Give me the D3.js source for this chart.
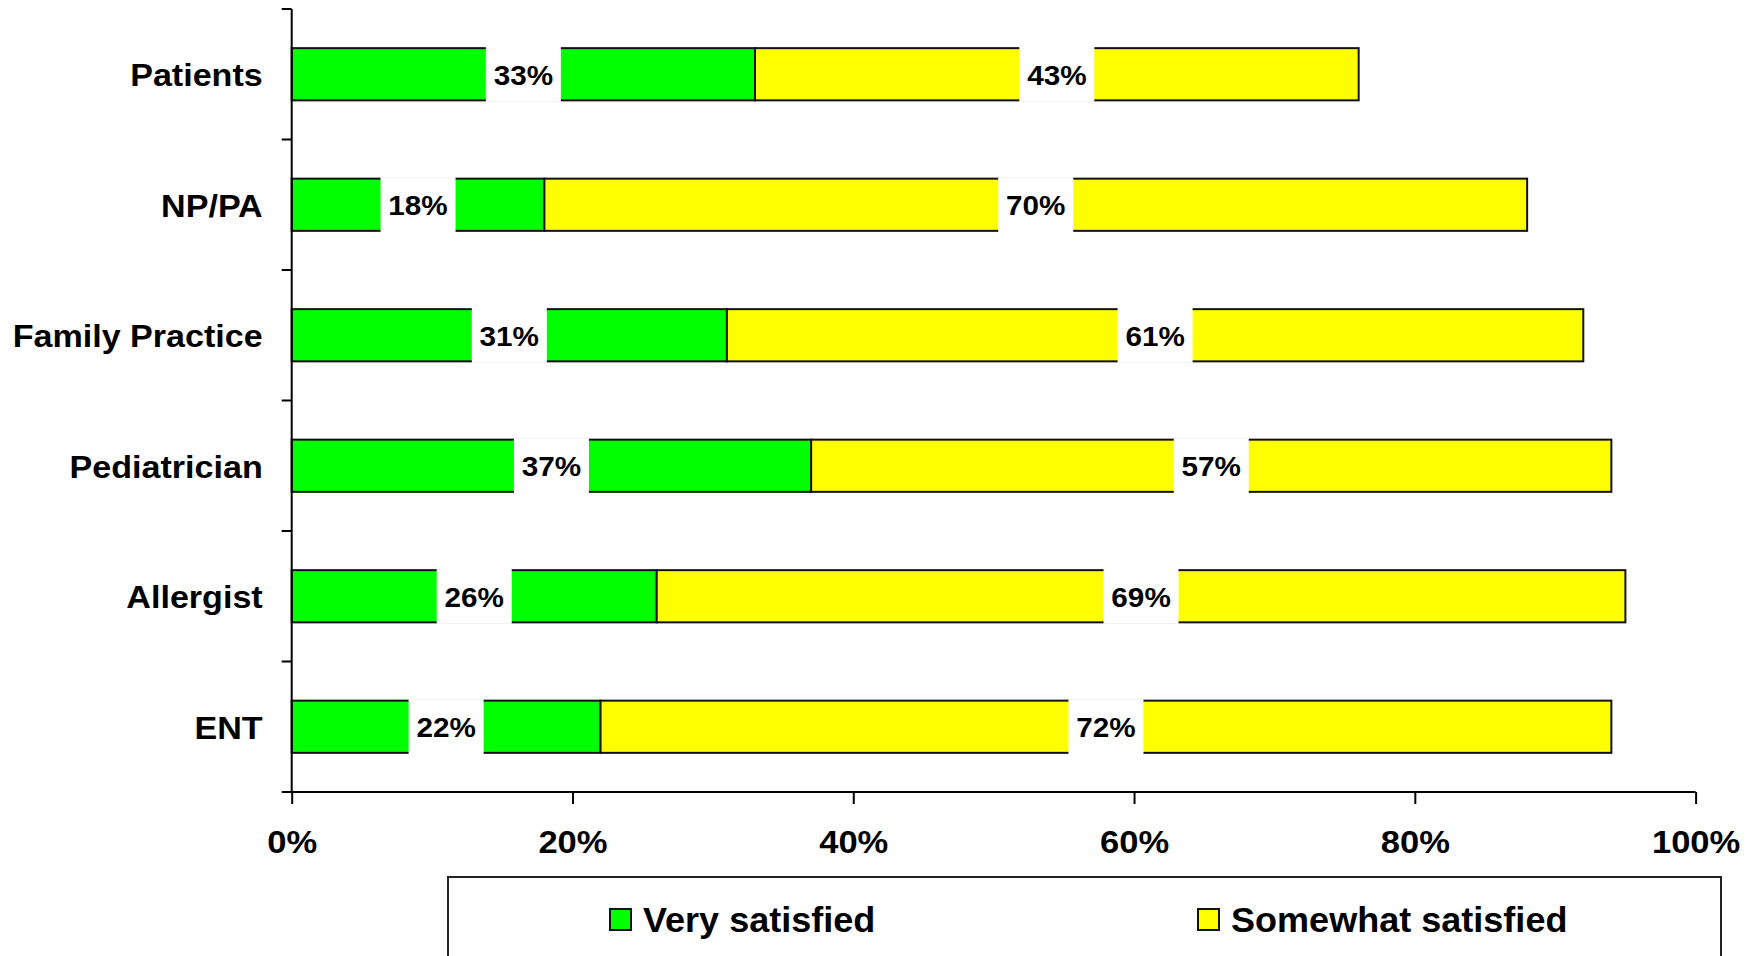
<!DOCTYPE html>
<html>
<head>
<meta charset="utf-8">
<script src="https://cdn.jsdelivr.net/npm/d3@7"></script>
<style>
  html, body { margin: 0; padding: 0; background: #fff; }
  svg { display: block; }
  text { font-family: Arial, "Liberation Sans", sans-serif; font-weight: bold; fill: #000; }
</style>
</head>
<body>
<svg id="chart" width="1751" height="956"></svg>
<script>
const categories = ["Patients", "NP/PA", "Family Practice", "Pediatrician", "Allergist", "ENT"];
const verySatisfied = [33, 18, 31, 37, 26, 22];
const somewhatSatisfied = [43, 70, 61, 57, 69, 72];
const seriesNames = ["Very satisfied", "Somewhat satisfied"];
const seriesColors = ["#00ff00", "#ffff00"];
const xTicks = [0, 20, 40, 60, 80, 100];

const svg = d3.select("#chart");

const x = d3.scaleLinear().domain([0, 100]).range([291.7, 1695.6]);
const y = d3.scaleBand().domain(categories).range([9, 792]).paddingInner(0.6).paddingOuter(0.3);

const rows = categories.map((c, i) => ({ cat: c, v: [verySatisfied[i], somewhatSatisfied[i]] }));

// bars
const segs = [];
rows.forEach(r => {
  let acc = 0;
  r.v.forEach((val, k) => {
    segs.push({ cat: r.cat, k, x0: acc, x1: acc + val, val });
    acc += val;
  });
});

svg.append("g").selectAll("rect").data(segs).join("rect")
  .attr("x", d => x(d.x0))
  .attr("y", d => y(d.cat))
  .attr("width", d => x(d.x1) - x(d.x0))
  .attr("height", y.bandwidth())
  .attr("fill", d => seriesColors[d.k])
  .attr("stroke", "#111")
  .attr("stroke-width", 2);

// labels with white boxes
const lbl = svg.append("g").selectAll("g").data(segs).join("g")
  .attr("transform", d => `translate(${x((d.x0 + d.x1) / 2)},${y(d.cat) + y.bandwidth() / 2})`);
lbl.append("rect")
  .attr("x", -37.5).attr("width", 75)
  .attr("y", -y.bandwidth() / 2 - 1.5).attr("height", y.bandwidth() + 3)
  .attr("fill", "#fff");
lbl.append("text")
  .attr("text-anchor", "middle")
  .attr("dy", "0.37em")
  .attr("transform", "scale(1.06,1)")
  .style("font-size", "28px")
  .text(d => d.val + "%");

// y axis
const yAxisG = svg.append("g");
yAxisG.append("line")
  .attr("x1", x(0)).attr("x2", x(0))
  .attr("y1", y.range()[0]).attr("y2", y.range()[1])
  .attr("stroke", "#000").attr("stroke-width", 2);
const boundaries = d3.range(categories.length + 1).map(i => y.range()[0] + i * y.step());
yAxisG.selectAll("line.tk").data(boundaries).join("line")
  .attr("class", "tk")
  .attr("x1", x(0) - 10).attr("x2", x(0))
  .attr("y1", d => d).attr("y2", d => d)
  .attr("stroke", "#000").attr("stroke-width", 2);
yAxisG.selectAll("text").data(categories).join("text")
  .attr("transform", d => `translate(${x(0) - 29},${y(d) + y.bandwidth() / 2}) scale(1.065,1)`)
  .attr("dy", "0.37em")
  .attr("text-anchor", "end")
  .style("font-size", "32px")
  .text(d => d);

// x axis
const xAxisG = svg.append("g").attr("transform", `translate(0,${y.range()[1]})`);
xAxisG.call(d3.axisBottom(x).tickValues(xTicks).tickSize(12).tickPadding(26).tickFormat(d => d + "%"));
xAxisG.select(".domain").attr("d", `M${x(0) - 8},0H${x(100)}`).attr("stroke", "#000").attr("stroke-width", 2);
xAxisG.selectAll(".tick line").attr("stroke", "#000").attr("stroke-width", 2);
xAxisG.selectAll(".tick text")
  .attr("transform", "scale(1.08,1)")
  .style("font-size", "32px")
  .style("font-family", "Arial, 'Liberation Sans', sans-serif")
  .style("font-weight", "bold")
  .attr("fill", "#000");

// legend
const leg = svg.append("g");
leg.append("rect")
  .attr("x", 448).attr("y", 877)
  .attr("width", 1721 - 448).attr("height", 100)
  .attr("fill", "#fff").attr("stroke", "#222").attr("stroke-width", 2);
const legX = [610, 1198];
const li = leg.selectAll("g.item").data(seriesNames).join("g")
  .attr("class", "item")
  .attr("transform", (d, i) => `translate(${legX[i]},0)`);
li.append("rect")
  .attr("x", 0).attr("y", 909).attr("width", 21).attr("height", 21)
  .attr("fill", (d, i) => seriesColors[i]).attr("stroke", "#111").attr("stroke-width", 2);
li.append("text")
  .attr("transform", "translate(33,932) scale(1.03,1)")
  .style("font-size", "35px")
  .text(d => d);
</script>
</body>
</html>
